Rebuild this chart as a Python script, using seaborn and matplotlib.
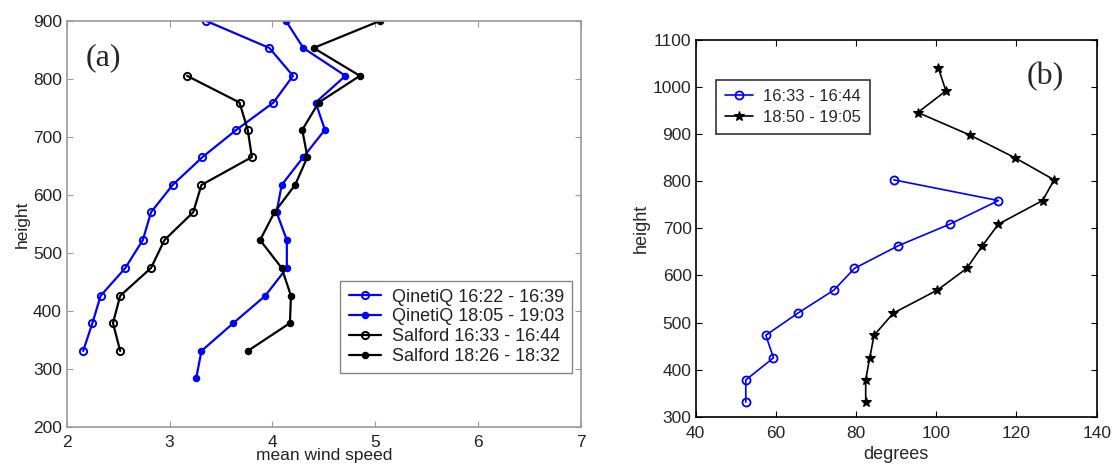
import matplotlib
matplotlib.use("Agg")
import matplotlib.pyplot as plt
import seaborn as sns
import pandas as pd

# panel (a): mean wind speed profiles
h_q1 = [331, 379, 426, 474, 522, 570, 617, 665, 712, 759, 805, 853, 900]
ws_q1 = [2.16, 2.25, 2.33, 2.57, 2.74, 2.82, 3.03, 3.32, 3.65, 4.01, 4.20, 3.97, 3.35]

h_q2 = [285, 331, 379, 426, 474, 522, 570, 617, 665, 712, 759, 805, 853, 900]
ws_q2 = [3.26, 3.31, 3.62, 3.93, 4.14, 4.14, 4.04, 4.09, 4.30, 4.51, 4.42, 4.71, 4.30, 4.13]

h_s1 = [331, 379, 426, 474, 522, 570, 617, 665, 712, 759, 805]
ws_s1 = [2.52, 2.45, 2.52, 2.82, 2.95, 3.23, 3.31, 3.80, 3.76, 3.68, 3.17]

h_s2 = [331, 379, 426, 474, 522, 570, 617, 665, 712, 759, 805, 853, 900]
ws_s2 = [3.76, 4.17, 4.18, 4.09, 3.88, 4.02, 4.22, 4.34, 4.29, 4.45, 4.85, 4.40, 5.05]

labels_a = ["QinetiQ 16:22 - 16:39", "QinetiQ 18:05 - 19:03",
            "Salford 16:33 - 16:44", "Salford 18:26 - 18:32"]

# panel (b): wind direction profiles
h_b1 = [331, 378, 425, 473, 520, 569, 615, 663, 709, 759, 803]
deg_b1 = [52.5, 52.5, 59.4, 57.5, 65.5, 74.5, 79.6, 90.5, 103.4, 115.5, 89.4]

h_b2 = [331, 378, 425, 473, 520, 569, 615, 663, 709, 759, 803, 850, 898, 946, 992, 1041]
deg_b2 = [82.4, 82.4, 83.4, 84.5, 89.3, 100.3, 107.6, 111.5, 115.5, 126.5, 129.4,
          119.6, 108.4, 95.4, 102.4, 100.5]

labels_b = ["16:33 - 16:44", "18:50 - 19:05"]

sns.set_style("white")
plt.rcParams['font.family'] = ['Liberation Sans', 'DejaVu Sans']

fig = plt.figure(figsize=(11.17, 4.70), dpi=100)

# ---- (a) ----
gray = '#9a9a9a'
txt = '#222222'
ax1 = fig.add_axes([0.0597, 0.0915, 0.4605, 0.8645])
series_a = [
    (ws_q1, h_q1, 'blue', 'none', labels_a[0]),
    (ws_q2, h_q2, 'blue', 'blue', labels_a[1]),
    (ws_s1, h_s1, 'black', 'none', labels_a[2]),
    (ws_s2, h_s2, 'black', 'black', labels_a[3]),
]
for xs, ys, col, mfc, lab in series_a:
    df = pd.DataFrame({'x': xs, 'y': ys})
    ms = 5.2 if mfc == 'none' else 4.0
    sns.lineplot(data=df, x='x', y='y', sort=False, estimator=None, ax=ax1,
                 color=col, marker='o', markersize=ms, markerfacecolor=mfc,
                 markeredgecolor=col, markeredgewidth=1.4, linewidth=1.6, label=lab)
ax1.set_xlim(2, 7)
ax1.set_ylim(200, 900)
ax1.set_xticks([2, 3, 4, 5, 6, 7])
ax1.set_yticks(range(200, 901, 100))
for s in ax1.spines.values():
    s.set_color(gray)
    s.set_linewidth(1.2)
ax1.tick_params(direction='in', length=4, color=gray, labelsize=12.5, labelcolor=txt,
                top=True, right=True, bottom=True, left=True)
ax1.tick_params(axis='x', pad=5.5)
ax1.tick_params(axis='y', pad=3.5)
ax1.set_xlabel('mean wind speed', fontsize=12.5, color=txt, labelpad=-1)
ax1.set_ylabel('height', fontsize=12.5, color=txt, labelpad=2)
leg = ax1.legend(loc='lower right', bbox_to_anchor=(0.983, 0.133), fontsize=13,
                 frameon=True, fancybox=False, edgecolor='#666666', handlelength=1.8,
                 handletextpad=0.6, borderpad=0.45, labelspacing=0.15, borderaxespad=0)
leg.get_frame().set_linewidth(1.0)
for t in leg.get_texts():
    t.set_color(txt)
ax1.text(0.036, 0.909, '(a)', transform=ax1.transAxes, fontsize=23,
         family='Liberation Serif', ha='left', va='center')

# ---- (b) ----
ax2 = fig.add_axes([0.6228, 0.1134, 0.359, 0.8015])
df1 = pd.DataFrame({'x': deg_b1, 'y': h_b1})
sns.lineplot(data=df1, x='x', y='y', sort=False, estimator=None, ax=ax2,
             color='blue', marker='o', markersize=5.8, markerfacecolor='none',
             markeredgecolor='blue', markeredgewidth=1.3, linewidth=1.2, label=labels_b[0])
df2 = pd.DataFrame({'x': deg_b2, 'y': h_b2})
sns.lineplot(data=df2, x='x', y='y', sort=False, estimator=None, ax=ax2,
             color='black', marker='*', markersize=7, markerfacecolor='black',
             markeredgecolor='black', markeredgewidth=0.8, linewidth=1.2, label=labels_b[1])
ax2.set_xlim(40, 140)
ax2.set_ylim(300, 1100)
ax2.set_xticks(range(40, 141, 20))
ax2.set_yticks(range(300, 1101, 100))
for s in ax2.spines.values():
    s.set_color('black')
    s.set_linewidth(1.2)
ax2.tick_params(direction='in', length=4, color='black', labelsize=12.5,
                top=True, right=True, bottom=True, left=True)
ax2.tick_params(axis='x', pad=7)
ax2.tick_params(axis='y', pad=3)
ax2.set_xlabel('degrees', fontsize=13, labelpad=3)
ax2.set_ylabel('height', fontsize=13, labelpad=2)
leg2 = ax2.legend(loc='upper left', bbox_to_anchor=(0.05, 0.894), fontsize=12,
                  frameon=True, fancybox=False, edgecolor='black', handlelength=1.7,
                  handletextpad=0.6, borderpad=0.55, labelspacing=0.35, borderaxespad=0)
leg2.get_frame().set_linewidth(1.2)
ax2.text(0.826, 0.902, '(b)', transform=ax2.transAxes, fontsize=23,
         family='Liberation Serif', ha='left', va='center')

fig.savefig('out.png', dpi=100)
